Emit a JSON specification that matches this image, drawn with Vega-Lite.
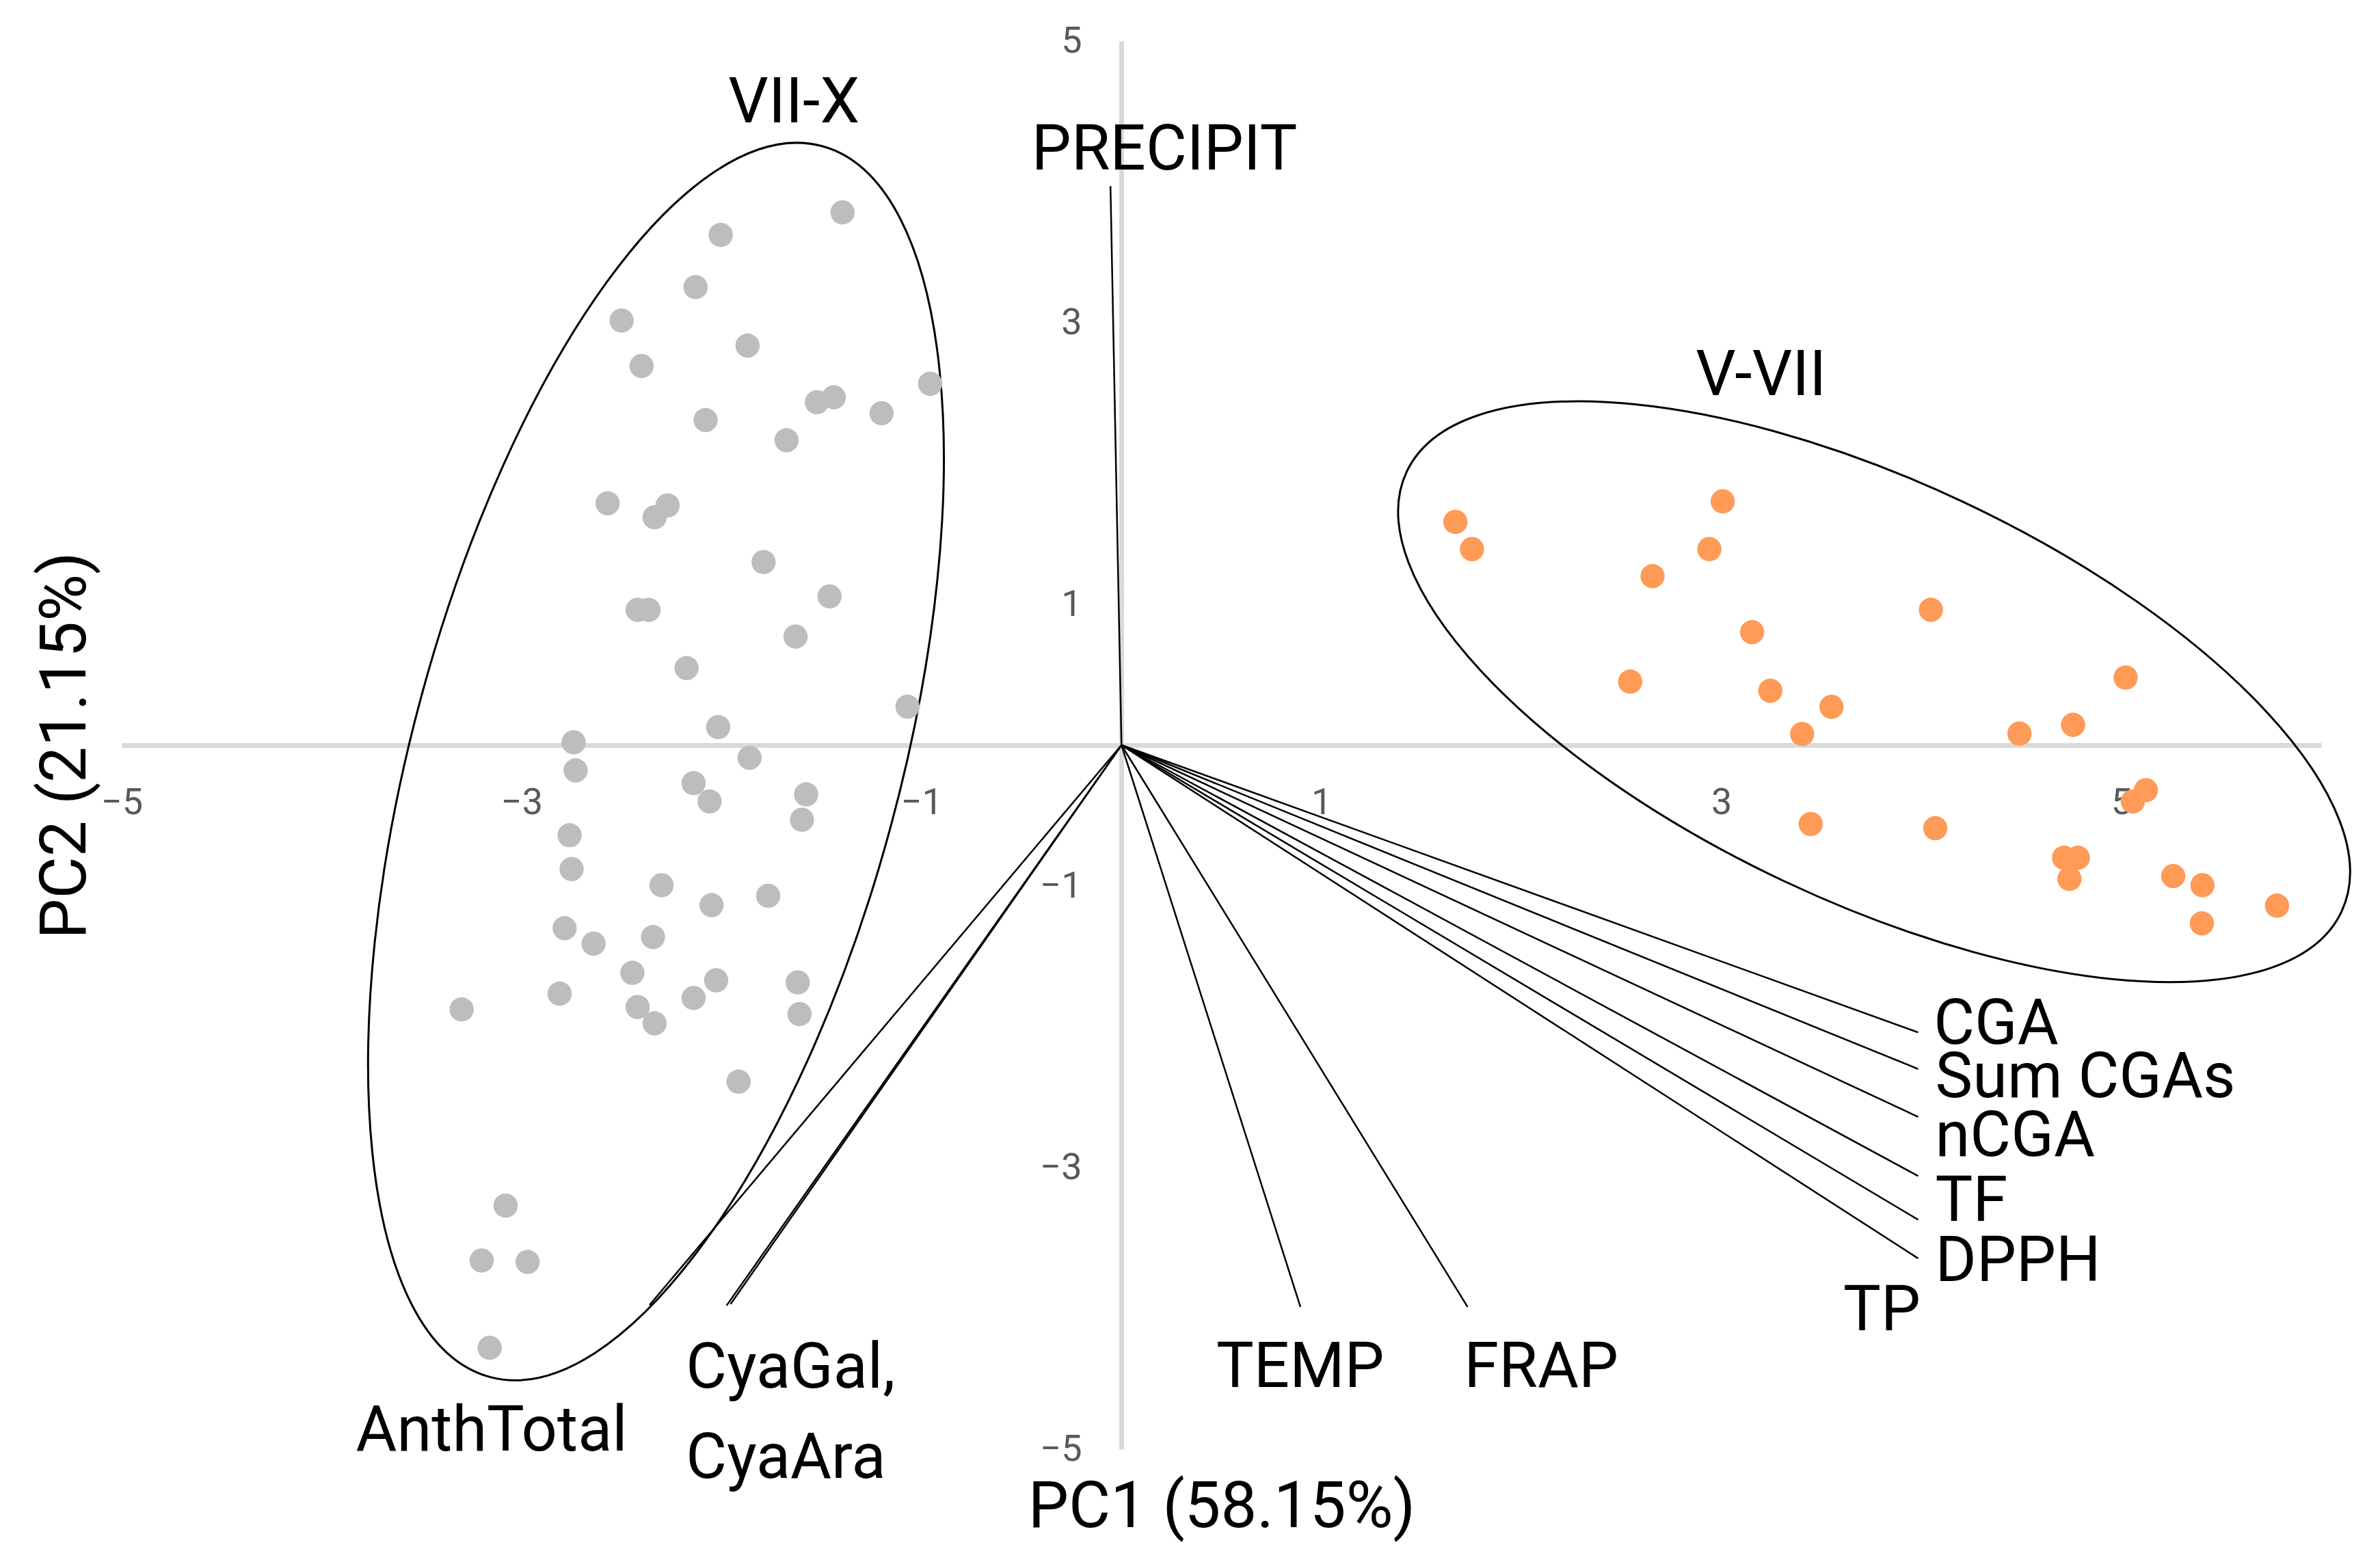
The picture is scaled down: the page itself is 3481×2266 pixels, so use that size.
{
  "$schema": "https://vega.github.io/schema/vega-lite/v6.json",
  "width": 3217,
  "height": 2060,
  "autosize": {"type": "none"},
  "padding": {"left": 178, "top": 60, "right": 86, "bottom": 146},
  "background": "white",
  "config": {
    "view": {"stroke": null},
    "font": "Roboto",
    "axis": {
      "grid": false,
      "ticks": false,
      "tickSize": 0,
      "domainColor": "#d9d9d9",
      "domainWidth": 7,
      "labelFont": "Roboto",
      "labelFontSize": 54,
      "labelColor": "#595959",
      "labelFlush": false,
      "labelOverlap": false,
      "titleFont": "Roboto",
      "titleFontSize": 94,
      "titleFontWeight": "normal",
      "titleColor": "black"
    },
    "axisX": {
      "offset": -1030,
      "labelPadding": 100,
      "labelBaseline": "alphabetic",
      "titleY": 1143,
      "titleBaseline": "alphabetic"
    },
    "axisY": {
      "offset": -1462,
      "labelPadding": 58,
      "labelAlign": "right",
      "labelBaseline": "middle",
      "titleX": -1544,
      "titleBaseline": "middle"
    }
  },
  "datasets": {
    "ellipses": [
      {"group": "VII-X", "x": -2.328, "y": -0.117},
      {"group": "V-VII", "x": 3.764, "y": 0.379}
    ],
    "loadings": [
      {"variable": "PRECIPIT", "x": -0.055, "y": 3.97},
      {"variable": "TEMP", "x": 0.895, "y": -3.99},
      {"variable": "FRAP", "x": 1.731, "y": -3.99},
      {"variable": "AnthTotal", "x": -2.36, "y": -3.976},
      {"variable": "CyaGal", "x": -1.975, "y": -3.98},
      {"variable": "CyaAra", "x": -1.955, "y": -3.97},
      {"variable": "CGA", "x": 3.984, "y": -2.04},
      {"variable": "Sum CGAs", "x": 3.984, "y": -2.3},
      {"variable": "nCGA", "x": 3.984, "y": -2.64},
      {"variable": "TF", "x": 3.984, "y": -3.06},
      {"variable": "DPPH", "x": 3.984, "y": -3.37},
      {"variable": "TP", "x": 3.984, "y": -3.645}
    ],
    "scores": [
      {"season": "VII-X", "x": -1.395, "y": 3.783},
      {"season": "VII-X", "x": -2.004, "y": 3.623},
      {"season": "VII-X", "x": -2.13, "y": 3.253},
      {"season": "VII-X", "x": -2.5, "y": 3.015},
      {"season": "VII-X", "x": -1.87, "y": 2.837},
      {"season": "VII-X", "x": -2.4, "y": 2.692},
      {"season": "VII-X", "x": -0.957, "y": 2.566},
      {"season": "VII-X", "x": -1.523, "y": 2.435},
      {"season": "VII-X", "x": -1.439, "y": 2.47},
      {"season": "VII-X", "x": -1.2, "y": 2.357},
      {"season": "VII-X", "x": -2.08, "y": 2.308},
      {"season": "VII-X", "x": -1.675, "y": 2.165},
      {"season": "VII-X", "x": -2.57, "y": 1.717},
      {"season": "VII-X", "x": -2.27, "y": 1.702},
      {"season": "VII-X", "x": -2.335, "y": 1.618},
      {"season": "VII-X", "x": -1.79, "y": 1.3},
      {"season": "VII-X", "x": -2.42, "y": 0.96},
      {"season": "VII-X", "x": -2.365, "y": 0.96},
      {"season": "VII-X", "x": -1.46, "y": 1.056},
      {"season": "VII-X", "x": -1.63, "y": 0.771},
      {"season": "VII-X", "x": -2.175, "y": 0.547},
      {"season": "VII-X", "x": -1.07, "y": 0.273},
      {"season": "VII-X", "x": -2.017, "y": 0.128},
      {"season": "VII-X", "x": -2.74, "y": 0.02},
      {"season": "VII-X", "x": -1.86, "y": -0.09},
      {"season": "VII-X", "x": -2.73, "y": -0.18},
      {"season": "VII-X", "x": -2.14, "y": -0.27},
      {"season": "VII-X", "x": -2.06, "y": -0.4},
      {"season": "VII-X", "x": -1.577, "y": -0.35},
      {"season": "VII-X", "x": -1.598, "y": -0.53},
      {"season": "VII-X", "x": -2.76, "y": -0.64},
      {"season": "VII-X", "x": -2.75, "y": -0.88},
      {"season": "VII-X", "x": -2.3, "y": -0.995},
      {"season": "VII-X", "x": -1.767, "y": -1.07},
      {"season": "VII-X", "x": -2.05, "y": -1.136},
      {"season": "VII-X", "x": -2.785, "y": -1.3},
      {"season": "VII-X", "x": -2.64, "y": -1.41},
      {"season": "VII-X", "x": -2.343, "y": -1.363},
      {"season": "VII-X", "x": -2.446, "y": -1.617},
      {"season": "VII-X", "x": -2.027, "y": -1.67},
      {"season": "VII-X", "x": -1.619, "y": -1.685},
      {"season": "VII-X", "x": -2.81, "y": -1.765},
      {"season": "VII-X", "x": -3.3, "y": -1.877},
      {"season": "VII-X", "x": -2.42, "y": -1.86},
      {"season": "VII-X", "x": -2.14, "y": -1.796},
      {"season": "VII-X", "x": -1.61, "y": -1.91},
      {"season": "VII-X", "x": -2.335, "y": -1.976},
      {"season": "VII-X", "x": -1.915, "y": -2.39},
      {"season": "VII-X", "x": -3.08, "y": -3.27},
      {"season": "VII-X", "x": -3.2, "y": -3.66},
      {"season": "VII-X", "x": -2.97, "y": -3.67},
      {"season": "VII-X", "x": -3.16, "y": -4.28},
      {"season": "V-VII", "x": 1.67, "y": 1.585},
      {"season": "V-VII", "x": 1.753, "y": 1.392},
      {"season": "V-VII", "x": 3.007, "y": 1.731},
      {"season": "V-VII", "x": 2.94, "y": 1.392},
      {"season": "V-VII", "x": 2.656, "y": 1.2},
      {"season": "V-VII", "x": 4.048, "y": 0.961},
      {"season": "V-VII", "x": 3.154, "y": 0.802},
      {"season": "V-VII", "x": 2.544, "y": 0.451},
      {"season": "V-VII", "x": 3.245, "y": 0.386},
      {"season": "V-VII", "x": 3.551, "y": 0.272},
      {"season": "V-VII", "x": 3.404, "y": 0.079},
      {"season": "V-VII", "x": 5.022, "y": 0.48},
      {"season": "V-VII", "x": 4.759, "y": 0.144},
      {"season": "V-VII", "x": 4.491, "y": 0.082},
      {"season": "V-VII", "x": 5.123, "y": -0.32},
      {"season": "V-VII", "x": 5.058, "y": -0.4},
      {"season": "V-VII", "x": 3.447, "y": -0.56},
      {"season": "V-VII", "x": 4.07, "y": -0.59},
      {"season": "V-VII", "x": 4.714, "y": -0.8},
      {"season": "V-VII", "x": 4.783, "y": -0.8},
      {"season": "V-VII", "x": 4.741, "y": -0.95},
      {"season": "V-VII", "x": 5.26, "y": -0.93},
      {"season": "V-VII", "x": 5.406, "y": -0.995},
      {"season": "V-VII", "x": 5.779, "y": -1.14},
      {"season": "V-VII", "x": 5.403, "y": -1.266}
    ],
    "labelsCenter": [
      {"label": "PRECIPIT", "x": 0.215, "y": 4.087},
      {"label": "VII-X", "x": -1.638, "y": 4.422},
      {"label": "V-VII", "x": 3.199, "y": 2.485},
      {"label": "TEMP", "x": 0.894, "y": -4.558},
      {"label": "FRAP", "x": 2.099, "y": -4.558},
      {"label": "AnthTotal", "x": -3.15, "y": -5.008}
    ],
    "labelsLeft": [
      {"label": "CGA", "x": 4.062, "y": -2.121},
      {"label": "Sum CGAs", "x": 4.07, "y": -2.5},
      {"label": "nCGA", "x": 4.07, "y": -2.918},
      {"label": "TF", "x": 4.07, "y": -3.38},
      {"label": "DPPH", "x": 4.07, "y": -3.806},
      {"label": "TP", "x": 3.61, "y": -4.155},
      {"label": "CyaGal,\nCyaAra", "x": -2.178, "y": -4.563}
    ]
  },
  "layer": [
    {
      "data": {"name": "ellipses"},
      "transform": [{"filter": "datum.group === 'VII-X'"}],
      "mark": {
        "type": "point",
        "shape": "M1,0 C1,0.211 0.552,0.382 0,0.382 C-0.552,0.382 -1,0.211 -1,0 C-1,-0.211 -0.552,-0.382 0,-0.382 C0.552,-0.382 1,-0.211 1,0 Z",
        "size": 3478225,
        "angle": 105.1,
        "filled": false,
        "stroke": "black",
        "strokeWidth": 3,
        "opacity": 1
      },
      "encoding": {
        "x": {"field": "x", "type": "quantitative", "title": "PC1 (58.15%)", "scale": {"domain": [-5, 6], "nice": false, "zero": false}, "axis": {"values": [-5, -3, -1, 1, 3, 5]}},
        "y": {"field": "y", "type": "quantitative", "title": "PC2 (21.15%)", "scale": {"domain": [-5, 5], "nice": false, "zero": false}, "axis": {"values": [-5, -3, -1, 1, 3, 5]}}
      }
    },
    {
      "data": {"name": "ellipses"},
      "transform": [{"filter": "datum.group === 'V-VII'"}],
      "mark": {
        "type": "point",
        "shape": "M1,0 C1,0.224 0.552,0.406 0,0.406 C-0.552,0.406 -1,0.224 -1,0 C-1,-0.224 -0.552,-0.406 0,-0.406 C0.552,-0.406 1,-0.224 1,0 Z",
        "size": 2283725,
        "angle": 25.2,
        "filled": false,
        "stroke": "black",
        "strokeWidth": 3,
        "opacity": 1
      },
      "encoding": {
        "x": {"field": "x", "type": "quantitative", "title": "PC1 (58.15%)", "scale": {"domain": [-5, 6], "nice": false, "zero": false}, "axis": {"values": [-5, -3, -1, 1, 3, 5]}},
        "y": {"field": "y", "type": "quantitative", "title": "PC2 (21.15%)", "scale": {"domain": [-5, 5], "nice": false, "zero": false}, "axis": {"values": [-5, -3, -1, 1, 3, 5]}}
      }
    },
    {
      "data": {"name": "loadings"},
      "mark": {"type": "rule", "color": "black", "strokeWidth": 2.5},
      "encoding": {
        "x": {"field": "x", "type": "quantitative", "title": "PC1 (58.15%)", "scale": {"domain": [-5, 6], "nice": false, "zero": false}, "axis": {"values": [-5, -3, -1, 1, 3, 5]}},
        "y": {"field": "y", "type": "quantitative", "title": "PC2 (21.15%)", "scale": {"domain": [-5, 5], "nice": false, "zero": false}, "axis": {"values": [-5, -3, -1, 1, 3, 5]}},
        "x2": {"datum": 0},
        "y2": {"datum": 0}
      }
    },
    {
      "data": {"name": "scores"},
      "mark": {"type": "point", "shape": "circle", "filled": true, "size": 1257, "opacity": 1},
      "encoding": {
        "x": {"field": "x", "type": "quantitative", "title": "PC1 (58.15%)", "scale": {"domain": [-5, 6], "nice": false, "zero": false}, "axis": {"values": [-5, -3, -1, 1, 3, 5]}},
        "y": {"field": "y", "type": "quantitative", "title": "PC2 (21.15%)", "scale": {"domain": [-5, 5], "nice": false, "zero": false}, "axis": {"values": [-5, -3, -1, 1, 3, 5]}},
        "color": {
          "field": "season", "type": "nominal",
          "scale": {"domain": ["VII-X", "V-VII"], "range": ["#bdbdbd", "#ff9a57"]},
          "legend": null
        }
      }
    },
    {
      "data": {"name": "labelsCenter"},
      "mark": {"type": "text", "font": "Roboto", "fontSize": 92, "color": "black", "align": "center", "baseline": "alphabetic"},
      "encoding": {
        "x": {"field": "x", "type": "quantitative", "title": "PC1 (58.15%)", "scale": {"domain": [-5, 6], "nice": false, "zero": false}, "axis": {"values": [-5, -3, -1, 1, 3, 5]}},
        "y": {"field": "y", "type": "quantitative", "title": "PC2 (21.15%)", "scale": {"domain": [-5, 5], "nice": false, "zero": false}, "axis": {"values": [-5, -3, -1, 1, 3, 5]}},
        "text": {"field": "label"}
      }
    },
    {
      "data": {"name": "labelsLeft"},
      "mark": {"type": "text", "font": "Roboto", "fontSize": 92, "color": "black", "align": "left", "baseline": "alphabetic", "lineBreak": "\n", "lineHeight": 132},
      "encoding": {
        "x": {"field": "x", "type": "quantitative", "title": "PC1 (58.15%)", "scale": {"domain": [-5, 6], "nice": false, "zero": false}, "axis": {"values": [-5, -3, -1, 1, 3, 5]}},
        "y": {"field": "y", "type": "quantitative", "title": "PC2 (21.15%)", "scale": {"domain": [-5, 5], "nice": false, "zero": false}, "axis": {"values": [-5, -3, -1, 1, 3, 5]}},
        "text": {"field": "label"}
      }
    }
  ]
}
